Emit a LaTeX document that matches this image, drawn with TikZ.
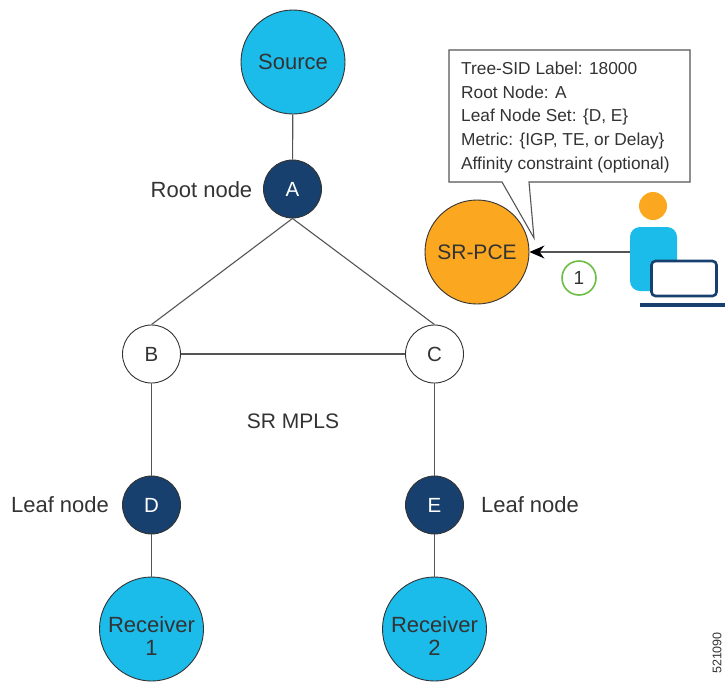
\documentclass[tikz,border=0pt]{standalone}
\usepackage{fontspec}
\setmainfont{Liberation Sans}
\usetikzlibrary{arrows.meta}
\definecolor{cyanfill}{HTML}{1BBBEA}
\definecolor{navyfill}{HTML}{17406F}
\definecolor{orangefill}{HTML}{FBA71F}
\definecolor{txt}{HTML}{333333}
\definecolor{linec}{HTML}{555555}
\definecolor{ringgreen}{HTML}{6CBE45}
\tikzset{x=1pt,y=-1pt,
  every node/.style={text=txt,font=\fontsize{22}{23}\selectfont},
  big/.style={circle,draw=txt,line width=.9pt,minimum size=104pt,inner sep=0pt,fill=cyanfill,align=center},
  pce/.style={big,fill=orangefill,font=\fontsize{21}{23}\selectfont},
  dark/.style={circle,draw=txt,line width=.9pt,minimum size=58pt,inner sep=0pt,fill=navyfill,text=white,font=\fontsize{20.5}{23}\selectfont},
  light/.style={circle,draw=txt,line width=.9pt,minimum size=58pt,inner sep=0pt,fill=white,font=\fontsize{20.5}{23}\selectfont},
  link/.style={draw=linec,line width=1.1pt},
  lab/.style={inner sep=0pt,anchor=center},
  callout/.style={draw=linec,line width=1.1pt,fill=white,line join=miter},
  calltext/.style={inner sep=0pt,anchor=north west,align=left,font=\fontsize{17.3}{23.6}\selectfont}
}
\begin{document}
\begin{tikzpicture}
\useasboundingbox (0,0) rectangle (725,681);
% anchors for the nodes
\coordinate (pA) at (292.5,189);
\coordinate (pB) at (151.5,354);
\coordinate (pC) at (434.5,354);
\coordinate (pD) at (151.5,505);
\coordinate (pE) at (434.5,505);
% nodes
\node[big] (source) at (293,62) {Source};
\node[dark] (A) at (pA) {A};
\node[light] (B) at (pB) {B};
\node[light] (C) at (pC) {C};
\node[dark] (D) at (pD) {D};
\node[dark] (E) at (pE) {E};
\node[big] (r1) at (151.5,629) {\rule{0pt}{30pt}Receiver\\1};
\node[big] (r2) at (434.5,629) {\rule{0pt}{30pt}Receiver\\2};
\node[pce] (pce) at (477,252) {SR-PCE};
% links
\draw[link] (source) -- (A);
\draw[link] (A.south) -- (B.north);
\draw[link] (A.south) -- (C.north);
\draw[link] (B) -- (C);
\draw[link] (B) -- (D);
\draw[link] (C) -- (E);
\draw[link] (D) -- (r1);
\draw[link] (E) -- (r2);
% labels
\node[lab] (lroot) at (201.5,190) {Root node};
\node[lab] (lleaf1) at (60,505) {Leaf node};
\node[lab] (lleaf2) at (530,505) {Leaf node};
\node[lab,font=\fontsize{21}{23}\selectfont] (lsr) at (293,421) {SR MPLS};
% callout
\draw[callout] (449,50) -- (690,50) -- (690,182) -- (529,182) -- (534,238) -- (502,182) -- (449,182) -- cycle;
\node[calltext] (ctext) at (461,62) {Tree-SID Label: 18000\\Root Node: A\\Leaf Node Set: \{D, E\}\\Metric: \{IGP, TE, or Delay\}\\Affinity constraint (optional)};
% person
\fill[orangefill] (653,206) circle (14);
\fill[cyanfill,rounded corners=10pt] (630,227) rectangle (677,291);
\node[draw=navyfill,line width=2.6pt,fill=white,rounded corners=4pt,minimum width=65pt,minimum height=35pt,inner sep=0pt] (laptop) at (684,278.5) {};
\coordinate (baseL) at (640,305);
\coordinate (baseR) at (725,305);
\draw[navyfill,line width=3.6pt] (baseL) -- (baseR);
\coordinate (user) at (630,252);
\draw[link,-{Stealth[length=15pt,width=13pt,color=black]}] (user) -- (pce);
% step badge
\node[circle,draw=ringgreen,line width=1.6pt,minimum size=34pt,inner sep=0pt,fill=white,font=\fontsize{19}{20}\selectfont] (step1) at (579,278) {1};
% figure number
\node[rotate=90,inner sep=0pt,font=\fontsize{12.5}{14}\selectfont] (fig) at (717,653) {521090};
\end{tikzpicture}
\end{document}
